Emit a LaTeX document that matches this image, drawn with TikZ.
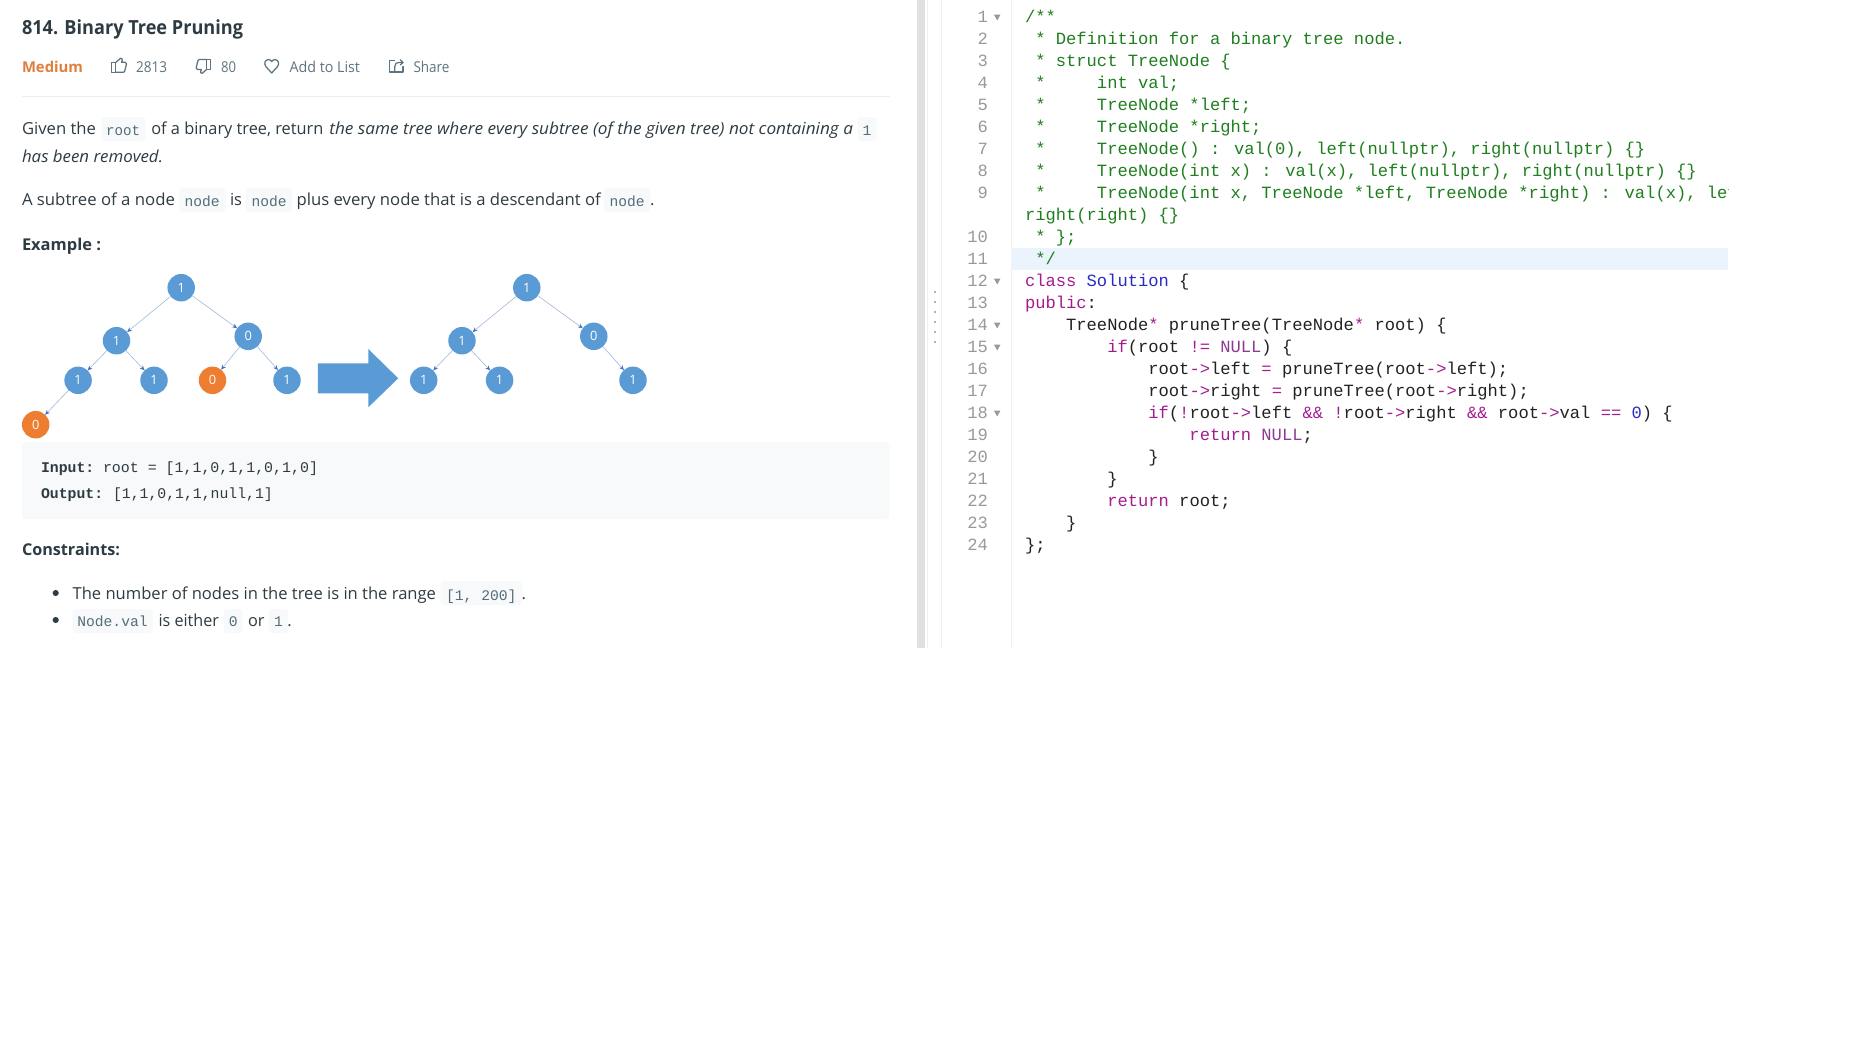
\documentclass[tikz,border=0pt]{standalone}
\usepackage{fontspec}
\usepackage{graphicx}
\usetikzlibrary{arrows.meta}
\setmainfont{Open Sans}
\newfontfamily\monof{Liberation Mono}
\definecolor{bodyc}{HTML}{2E3B42}
\definecolor{mutedc}{HTML}{5F7480}
\definecolor{medc}{HTML}{E07F3B}
\definecolor{rulec}{HTML}{EEEEEE}
\definecolor{blockc}{HTML}{F7F9FA}
\definecolor{inlc}{HTML}{546E7A}
\definecolor{nodeb}{HTML}{5B9BD5}
\definecolor{nodeo}{HTML}{ED7D31}
\definecolor{edgec}{HTML}{A3B7DE}
\definecolor{tipc}{HTML}{4472C4}
\definecolor{stripc}{HTML}{E0E0E0}
\definecolor{gutc}{HTML}{F0F0F0}
\definecolor{numc}{HTML}{999999}
\definecolor{hlc}{HTML}{EBF3FC}
\definecolor{cmc}{HTML}{1F7F1F}
\definecolor{kwc}{HTML}{A31D8F}
\definecolor{tyc}{HTML}{2B2BC4}
\definecolor{nlc}{HTML}{8E3C92}
\definecolor{codec}{HTML}{222222}
% fit text to a width in picture pixels, height unchanged
\newcommand\fitw[2]{\resizebox{\dimexpr #1pt*3/4\relax}{\height}{#2}}
\newcommand\indn[1]{\kern #1\dimexpr 0.6em\relax}
\newcommand\cm[1]{\textcolor{cmc}{#1}}
\newcommand\kw[1]{\textcolor{kwc}{#1}}
\newcommand\ty[1]{\textcolor{tyc}{#1}}
\newcommand\nl[1]{\textcolor{nlc}{#1}}
\tikzset{
  x=0.75pt,y=-0.75pt,
  txt/.style={inner sep=0pt,outer sep=0pt,anchor=base west,text=bodyc,font=\fontsize{12.4pt}{15pt}\selectfont},
  titletxt/.style={txt,font=\fontsize{14.6pt}{18pt}\selectfont\bfseries},
  headtxt/.style={txt,font=\fontsize{12.2pt}{15pt}\selectfont\bfseries},
  mediumtxt/.style={txt,text=medc,font=\fontsize{11.2pt}{14pt}\selectfont\bfseries},
  metatxt/.style={txt,text=mutedc,font=\fontsize{11.2pt}{14pt}\selectfont},
  inltxt/.style={inner sep=0pt,outer sep=0pt,anchor=base,text=inlc,font=\fontsize{11pt}{13pt}\selectfont\monof},
  inlbox/.style={fill=blockc,rounded corners=2.5pt},
  blocktxt/.style={inner sep=0pt,outer sep=0pt,anchor=base west,text=bodyc,font=\fontsize{11.1pt}{13pt}\selectfont\monof},
  treenode/.style={circle,inner sep=0pt,outer sep=0pt,minimum size=20.6pt,text=white,font=\fontsize{9.6pt}{11pt}\selectfont},
  bluen/.style={treenode,fill=nodeb},
  orangen/.style={treenode,fill=nodeo},
  treeedge/.style={draw=edgec,line width=0.45pt,-{Stealth[length=3.6pt,width=3.2pt,color=tipc]}},
  icon/.style={draw=mutedc,line width=0.95pt,line join=round,line cap=round},
  codeln/.style={inner sep=0pt,outer sep=0pt,anchor=base west,text=codec,font=\fontsize{12.85pt}{15pt}\selectfont\monof},
  numln/.style={inner sep=0pt,outer sep=0pt,anchor=base east,text=numc,font=\fontsize{12.85pt}{15pt}\selectfont\monof},
  foldmark/.style={fill=numc},
  bullet/.style={circle,fill=bodyc,inner sep=0pt,minimum size=4.6pt},
}
\begin{document}
\begin{tikzpicture}
\useasboundingbox (0,0) rectangle (1858,1050);
\fill[white] (0,0) rectangle (1858,1050);

% ---------- header ----------
\node[titletxt] (title) at (22,34.5) {\fitw{221}{814. Binary Tree Pruning}};
\node[mediumtxt] (medium) at (22,72) {\fitw{61}{Medium}};
\node[metatxt] (likes) at (136,72) {\fitw{31}{2813}};
\node[metatxt] (dislikes) at (221,72) {\fitw{15}{80}};
\node[metatxt] (addlist) at (289.5,72) {\fitw{70.5}{Add to List}};
\node[metatxt] (share) at (413.5,72) {\fitw{36}{Share}};
% thumb up
\draw[icon] (111.7,62.5) rectangle (115.7,72.3);
\draw[icon] (115.7,62.5) -- (119.6,59.2) -- (120.2,58.3) .. controls (122,57.8) and (122.7,59.2) .. (122.2,60.4) -- (121.5,62.3) -- (125.4,62.3) .. controls (126.3,62.3) and (126.7,63.2) .. (126.5,64) -- (124.6,71.4) .. controls (124.4,72) and (124,72.3) .. (123.4,72.3) -- (115.7,72.3);
% thumb down
\draw[icon] (206.7,59.5) rectangle (210.7,69.4);
\draw[icon] (206.7,59.5) -- (199.3,59.5) .. controls (198.6,59.5) and (198.2,59.8) .. (198,60.4) -- (196.2,67.8) .. controls (196,68.7) and (196.5,69.4) .. (197.4,69.4) -- (201.4,69.4) -- (200.7,71.4) .. controls (200.3,72.7) and (201,73.8) .. (202.6,73.2) -- (203.2,72.4) -- (206.7,69.4);
% heart
\draw[icon] (271.7,73) -- (265.9,66.6) .. controls (263.4,63.4) and (265.4,59.6) .. (268.4,59.6) .. controls (270,59.6) and (271,60.4) .. (271.7,61.6) .. controls (272.4,60.4) and (273.4,59.6) .. (275,59.6) .. controls (278,59.6) and (280,63.4) .. (277.5,66.6) -- cycle;
% share
\draw[icon] (394.5,60.6) -- (389.6,60.6) -- (389.6,72) -- (403,72) -- (403,66.5);
\draw[icon] (394.8,72) -- (394.8,66.5) .. controls (394.8,63.4) and (396.6,62.4) .. (399,62.4) -- (403,62.4);
\draw[icon] (400.3,59.8) -- (403,62.4) -- (400.3,65);
\draw[rulec,line width=0.8pt] (22,96.5) -- (890,96.5);

% ---------- paragraph 1 ----------
\path[inlbox] (101,117) rectangle (145.5,141);
\node[txt] (p1a) at (22,134) {\fitw{74}{Given the}};
\node[inltxt] (rootc) at (123.2,135) {\fitw{34}{root}};
\node[txt] (p1b) at (151.3,134) {\fitw{172}{of a binary tree, return}};
\node[txt] (p1c) at (329.4,134) {\fitw{523.6}{\itshape the same tree where every subtree (of the given tree) not containing a}};
\path[inlbox] (857.6,117) rectangle (876.6,141);
\node[inltxt] (onec) at (867.1,135) {1};
\node[txt] (p1d) at (22,162) {\fitw{141}{\itshape has been removed.}};

% ---------- paragraph 2 ----------
\path[inlbox] (179,188) rectangle (225.5,212);
\path[inlbox] (246,188) rectangle (292,212);
\path[inlbox] (604,188) rectangle (650.4,212);
\node[txt] (p2a) at (22,205) {\fitw{153}{A subtree of a node}};
\node[inltxt] (n1c) at (202.2,206) {\fitw{35}{node}};
\node[txt] (p2b) at (230,205) {\fitw{12}{is}};
\node[inltxt] (n2c) at (269,206) {\fitw{35}{node}};
\node[txt] (p2c) at (296.7,205) {\fitw{304}{plus every node that is a descendant of}};
\node[inltxt] (n3c) at (627.2,206) {\fitw{35}{node}};
\node[txt] (p2d) at (650,205) {.};
\node[headtxt] (example) at (22,250) {\fitw{79}{Example :}};

% ---------- left tree ----------
\node[bluen] (a1) at (181.2,287.7) {1};
\node[bluen] (a2) at (116.5,340.7) {1};
\node[bluen] (a3) at (248.2,336.3) {0};
\node[bluen] (a4) at (78.1,380.3) {1};
\node[bluen] (a5) at (154,380.3) {1};
\node[orangen] (a6) at (212.5,380.3) {0};
\node[bluen] (a7) at (287,380.3) {1};
\node[orangen] (a8) at (35.7,424.7) {0};
\draw[treeedge] (a1) -- (a2);
\draw[treeedge] (a1) -- (a3);
\draw[treeedge] (a2) -- (a4);
\draw[treeedge] (a2) -- (a5);
\draw[treeedge] (a3) -- (a6);
\draw[treeedge] (a3) -- (a7);
\draw[treeedge] (a4) -- (a8);

% ---------- big arrow ----------
\fill[nodeb] (317.9,363.3) -- (368.3,363.3) -- (368.3,349) -- (398.2,378.3) -- (368.3,407.3) -- (368.3,393.3) -- (317.9,393.3) -- cycle;

% ---------- right tree ----------
\node[bluen] (b1) at (526.8,287.7) {1};
\node[bluen] (b2) at (462,340.7) {1};
\node[bluen] (b3) at (593.8,336.3) {0};
\node[bluen] (b4) at (423.7,380.3) {1};
\node[bluen] (b5) at (499.6,380.3) {1};
\node[bluen] (b7) at (633,380.3) {1};
\draw[treeedge] (b1) -- (b2);
\draw[treeedge] (b1) -- (b3);
\draw[treeedge] (b2) -- (b4);
\draw[treeedge] (b2) -- (b5);
\draw[treeedge] (b3) -- (b7);

% ---------- example block ----------
\fill[blockc,rounded corners=2.5pt] (22,442) rectangle (889,519);
\node[blocktxt] (inl) at (41,472) {\textbf{Input:}};
\node[blocktxt] (inv) at (103,472) {\fitw{215}{root = [1,1,0,1,1,0,1,0]}};
\node[blocktxt] (outl) at (41,498) {\textbf{Output:}};
\node[blocktxt] (outv) at (113,498) {[1,1,0,1,1,null,1]};

% ---------- constraints ----------
\node[headtxt] (cons) at (22,555) {\fitw{98}{Constraints:}};
\node[bullet] (b1dot) at (55.7,593) {};
\node[bullet] (b2dot) at (55.7,620) {};
\path[inlbox] (440.7,581) rectangle (522,605);
\node[txt] (c1) at (72.6,599) {\fitw{363.4}{The number of nodes in the tree is in the range}};
\node[inltxt] (c1c) at (481.3,600) {[1, 200]};
\node[txt] (c1d) at (521.5,599) {.};
\path[inlbox] (72.6,609) rectangle (152.5,633);
\path[inlbox] (224,609) rectangle (242.7,633);
\path[inlbox] (268.8,609) rectangle (288,633);
\node[inltxt] (c2c) at (112.5,626.5) {Node.val};
\node[txt] (c2a) at (158.6,626) {\fitw{60.4}{is either}};
\node[inltxt] (c20) at (233.3,626.5) {0};
\node[txt] (c2b) at (248,626) {\fitw{16.5}{or}};
\node[inltxt] (c21) at (278.4,626.5) {1};
\node[txt] (c2d) at (287.4,626) {.};

% ---------- splitter and editor frame ----------
\fill[stripc] (917,0) rectangle (925,647.5);
\draw[gutc,line width=0.6pt] (927.7,0) -- (927.7,647.5);
\draw[gutc,line width=0.6pt] (941.3,0) -- (941.3,647.5);
\draw[gutc,line width=0.6pt] (1011,0) -- (1011,647.5);
\foreach \dy in {292,302,312,322,332,342} \fill[black!30] (934.3,\dy-1) rectangle (935.8,\dy+1);
\fill[hlc] (1011,248) rectangle (1728,270);

% ---------- line numbers ----------
\node[numln] (n1) at (988,22.4) {1};
\node[numln] (n2) at (988,44.4) {2};
\node[numln] (n3) at (988,66.4) {3};
\node[numln] (n4) at (988,88.4) {4};
\node[numln] (n5) at (988,110.4) {5};
\node[numln] (n6) at (988,132.4) {6};
\node[numln] (n7) at (988,154.4) {7};
\node[numln] (n8) at (988,176.4) {8};
\node[numln] (n9) at (988,198.4) {9};
\node[numln] (n10) at (988,242.4) {10};
\node[numln] (n11) at (988,264.4) {11};
\node[numln] (n12) at (988,286.4) {12};
\node[numln] (n13) at (988,308.4) {13};
\node[numln] (n14) at (988,330.4) {14};
\node[numln] (n15) at (988,352.4) {15};
\node[numln] (n16) at (988,374.4) {16};
\node[numln] (n17) at (988,396.4) {17};
\node[numln] (n18) at (988,418.4) {18};
\node[numln] (n19) at (988,440.4) {19};
\node[numln] (n20) at (988,462.4) {20};
\node[numln] (n21) at (988,484.4) {21};
\node[numln] (n22) at (988,506.4) {22};
\node[numln] (n23) at (988,528.4) {23};
\node[numln] (n24) at (988,550.4) {24};
\foreach \fy in {17.3,281.3,325.3,347.3,413.3}
  \fill[foldmark] (994,\fy-2.6) -- (1000.4,\fy-2.6) -- (997.2,\fy+3.2) -- cycle;

% ---------- code ----------
\node[codeln] (l1) at (1025,22.4) {\cm{/**}};
\node[codeln] (l2) at (1025,44.4) {\cm{\indn{1}* Definition for a binary tree node.}};
\node[codeln] (l3) at (1025,66.4) {\cm{\indn{1}* struct TreeNode \{}};
\node[codeln] (l4) at (1025,88.4) {\cm{\indn{1}*\indn{5}int val;}};
\node[codeln] (l5) at (1025,110.4) {\cm{\indn{1}*\indn{5}TreeNode *left;}};
\node[codeln] (l6) at (1025,132.4) {\cm{\indn{1}*\indn{5}TreeNode *right;}};
\node[codeln] (l7) at (1025,154.4) {\cm{\indn{1}*\indn{5}TreeNode() : val(0), left(nullptr), right(nullptr) \{\}}};
\node[codeln] (l8) at (1025,176.4) {\cm{\indn{1}*\indn{5}TreeNode(int x) : val(x), left(nullptr), right(nullptr) \{\}}};
\begin{scope}
\clip (1012,180) rectangle (1728,206);
\node[codeln] (l9) at (1025,198.4) {\cm{\indn{1}*\indn{5}TreeNode(int x, TreeNode *left, TreeNode *right) : val(x), lef}};
\end{scope}
\node[codeln] (l9b) at (1025,220.4) {\cm{right(right) \{\}}};
\node[codeln] (l10) at (1025,242.4) {\cm{\indn{1}* \};}};
\node[codeln] (l11) at (1025,264.4) {\cm{\indn{1}*/}};
\node[codeln] (l12) at (1025,286.4) {\kw{class} \ty{Solution} \{};
\node[codeln] (l13) at (1025,308.4) {\kw{public}:};
\node[codeln] (l14) at (1025,330.4) {\indn{4}TreeNode\kw{*} pruneTree(TreeNode\kw{*} root) \{};
\node[codeln] (l15) at (1025,352.4) {\indn{8}\kw{if}(root \kw{!=} \nl{NULL}) \{};
\node[codeln] (l16) at (1025,374.4) {\indn{12}root\kw{->}left \kw{=} pruneTree(root\kw{->}left);};
\node[codeln] (l17) at (1025,396.4) {\indn{12}root\kw{->}right \kw{=} pruneTree(root\kw{->}right);};
\node[codeln] (l18) at (1025,418.4) {\indn{12}\kw{if}(\kw{!}root\kw{->}left \kw{\&\&} \kw{!}root\kw{->}right \kw{\&\&} root\kw{->}val \kw{==} \ty{0}) \{};
\node[codeln] (l19) at (1025,440.4) {\indn{16}\kw{return} \nl{NULL};};
\node[codeln] (l20) at (1025,462.4) {\indn{12}\}};
\node[codeln] (l21) at (1025,484.4) {\indn{8}\}};
\node[codeln] (l22) at (1025,506.4) {\indn{8}\kw{return} root;};
\node[codeln] (l23) at (1025,528.4) {\indn{4}\}};
\node[codeln] (l24) at (1025,550.4) {\};};
\end{tikzpicture}
\end{document}
